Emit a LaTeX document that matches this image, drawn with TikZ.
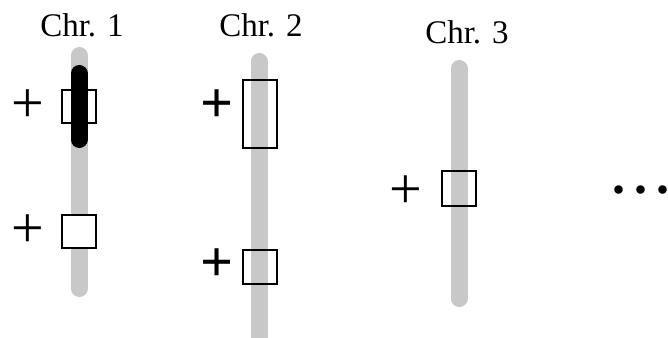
\documentclass[tikz,border=0pt]{standalone}
\usepackage{fontspec}
\setmainfont{Liberation Serif}
\definecolor{chrgray}{RGB}{200,200,200}
\tikzset{
  chrom/.style={line width=17pt, line cap=round, chrgray},
  band/.style={line width=17pt, line cap=round, black},
  locus/.style={draw, line width=2pt, minimum width=34pt, minimum height=#1, inner sep=0pt},
  sign/.style={font=\fontsize{58}{58}\selectfont, inner sep=0pt},
  chrname/.style={font=\fontsize{33}{36}\selectfont, inner sep=0pt}
}
\begin{document}
\begin{tikzpicture}[x=1pt,y=-1pt]
  \useasboundingbox (0,0) rectangle (668,337);
  \clip (0,0) rectangle (668,337);
  \node[chrname] (n1) at (82,25) {Chr. 1};
  \node[chrname] (n2) at (261,25) {Chr. 2};
  \node[chrname] (n3) at (467,32) {Chr. 3};
  \coordinate (t1) at (79,55.5);
  \coordinate (b1) at (79,288.5);
  \coordinate (t2) at (259,61.5);
  \coordinate (b2) at (259,360);
  \coordinate (t3) at (459,68.5);
  \coordinate (b3) at (459,298.5);
  \coordinate (bt) at (79,73.5);
  \coordinate (bb) at (79,139.5);
  \draw[chrom] (t1) -- (b1);
  \draw[chrom] (t2) -- (b2);
  \draw[chrom] (t3) -- (b3);
  \node[locus=33pt] (l11) at (79,106.5) {};
  \node[locus=33pt, fill=white] (l12) at (79,231.5) {};
  \node[locus=68pt] (l21) at (259.5,114) {};
  \node[locus=34pt] (l22) at (259.5,267) {};
  \node[locus=35pt] (l31) at (459,188.5) {};
  \draw[band] (bt) -- (bb);
  \node[sign] (p11) at (28,106) {+};
  \node[sign] (p12) at (28,231) {+};
  \node[sign, font=\fontsize{58}{58}\selectfont\bfseries] (p21) at (217,106) {+};
  \node[sign, font=\fontsize{58}{58}\selectfont\bfseries] (p22) at (217,265) {+};
  \node[sign] (p31) at (406,192) {+};
  \node[font=\fontsize{52}{52}\selectfont\bfseries, inner sep=0pt] (more) at (641,190) {.\hspace{9pt}.\hspace{9pt}.};
\end{tikzpicture}
\end{document}
